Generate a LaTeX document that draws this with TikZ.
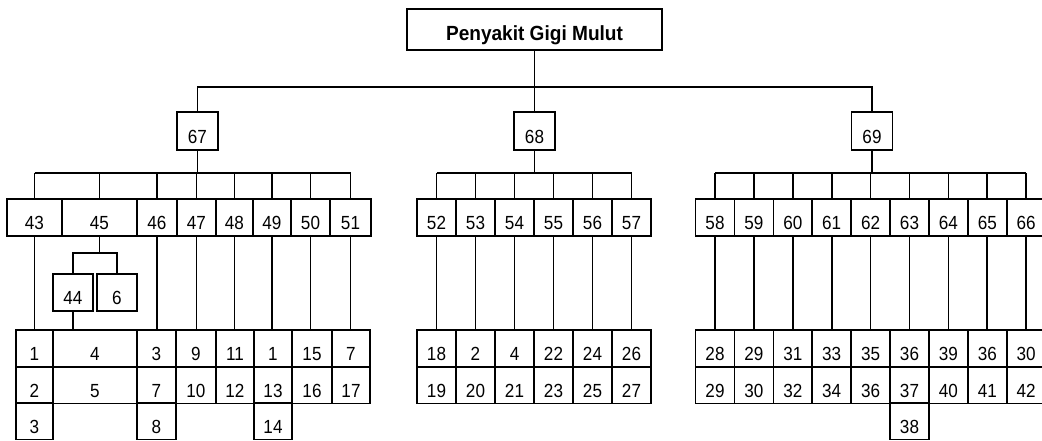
\documentclass[tikz,border=0pt]{standalone}
\usepackage{fontspec}
\setmainfont{Liberation Sans}
\newfontfamily\titlefont[FakeStretch=0.93]{Liberation Sans}
\newfontfamily\numfont[FakeStretch=0.9]{Liberation Sans}
\begin{document}
\begin{tikzpicture}[x=1pt, y=-1pt, line width=1.7pt]
  \tikzset{
    cell/.style={rectangle, draw=black, inner sep=0pt,
                 minimum width=39pt, minimum height=37pt,
                 text height=24pt, text depth=0pt,
                 font=\numfont\fontsize{19}{22}\selectfont},
    topcell/.style={cell, minimum width=41pt, minimum height=38pt},
    rootbox/.style={rectangle, draw=black, inner sep=0pt,
                    minimum width=255pt, minimum height=41pt,
                    text height=21pt, text depth=0pt,
                    font=\titlefont\fontsize{20.5}{24}\selectfont\bfseries},
    link/.style={draw=black, line width=1.7pt}
  }
  \useasboundingbox (0,0) rectangle (1042,440);
  % Root and the three groups
  \node[rootbox] (root) at (534.5,29.5) {Penyakit Gigi Mulut};
  \node[topcell] (n67) at (197.5,131) {67};
  \node[topcell] (n68) at (534.5,131) {68};
  \node[topcell] (n69) at (872,131)   {69};
  \coordinate (hub) at (534.5,87);
  \draw[link] (root.south) -- (n68.north);
  \draw[link] (n67.north) |- (hub) -| (n69.north);
  % Left group: level 2
  \foreach \n/\x/\w in {43/34.5/55, 45/99.5/75, 46/157/40, 47/196.5/39,
                        48/234.5/37, 49/272/38, 50/310.5/39, 51/350.5/41}
    \node[cell, minimum width=\w pt] (n\n) at (\x,217.5) {\n};
  \coordinate (bus67) at (197.5,173);
  \draw[link] (n67.south) -- (bus67);
  \draw[link] (n43.north |- bus67) -- (n51.north |- bus67);
  \foreach \n in {43,45,46,47,48,49,50,51}
    \draw[link] (n\n.north) -- (n\n.north |- bus67);
  % Left group: 45 splits into 44 and 6
  \node[cell, minimum width=40pt] (n44) at (73,292.5)  {44};
  \node[cell, minimum width=40pt] (n6)  at (117,292.5) {6};
  \coordinate (fork45) at (99.5,253);
  \draw[link] (n45.south) -- (fork45);
  \draw[link] (n44.north) |- (fork45) -| (n6.north);
  % Left group: bottom cells
  \foreach \c/\x/\w/\p/\q in {a/34.5/37/1/2, b/95/84/4/5, c/156.5/39/3/7,
                              d/196/40/9/10, e/235/38/11/12, f/273/38/1/13,
                              g/312/40/15/16, h/351/38/7/17} {
    \node[cell, minimum width=\w pt] (l\c1) at (\x,348.5) {\p};
    \node[cell, minimum width=\w pt] (l\c2) at (\x,385)   {\q};
  }
  \node[cell, minimum width=37pt] (la3) at (34.5,421) {3};
  \node[cell, minimum width=39pt] (lc3) at (156.5,421) {8};
  \node[cell, minimum width=38pt] (lf3) at (273,421) {14};
  \foreach \a/\b in {43/la1, 46/lc1, 47/ld1, 48/le1, 49/lf1, 50/lg1, 51/lh1, 44/lb1}
    \draw[link] (n\a.south) -- (n\a.south |- \b.north);
  % Middle group
  \foreach \n/\p/\q [count=\i from 0] in {52/18/19, 53/2/20, 54/4/21,
                                          55/22/23, 56/24/25, 57/26/27} {
    \node[cell] (n\n)  at ({436.5+39*\i},217.5) {\n};
    \node[cell] (c\n a) at ({436.5+39*\i},348.5) {\p};
    \node[cell] (c\n b) at ({436.5+39*\i},385)   {\q};
    \draw[link] (n\n.south) -- (c\n a.north);
  }
  \coordinate (bus68) at (534.5,173);
  \draw[link] (n68.south) -- (bus68);
  \draw[link] (n52.north |- bus68) -- (n57.north |- bus68);
  \foreach \n in {52,...,57}
    \draw[link] (n\n.north) -- (n\n.north |- bus68);
  % Right group
  \foreach \n/\p/\q [count=\i from 0] in {58/28/29, 59/29/30, 60/31/32,
                                          61/33/34, 62/35/36, 63/36/37,
                                          64/39/40, 65/36/41, 66/30/42} {
    \node[cell, minimum width=38.9pt] (n\n)  at ({715+38.9*\i},217.5) {\n};
    \node[cell, minimum width=38.9pt] (c\n a) at ({715+38.9*\i},348.5) {\p};
    \node[cell, minimum width=38.9pt] (c\n b) at ({715+38.9*\i},385)   {\q};
    \draw[link] (n\n.south) -- (c\n a.north);
  }
  \node[cell, minimum width=38.9pt] (c63c) at (909.5,421) {38};
  \coordinate (bus69) at (872,173);
  \draw[link] (n69.south) -- (bus69);
  \draw[link] (n58.north |- bus69) -- (n66.north |- bus69);
  \foreach \n in {58,...,66}
    \draw[link] (n\n.north) -- (n\n.north |- bus69);
\end{tikzpicture}
\end{document}
